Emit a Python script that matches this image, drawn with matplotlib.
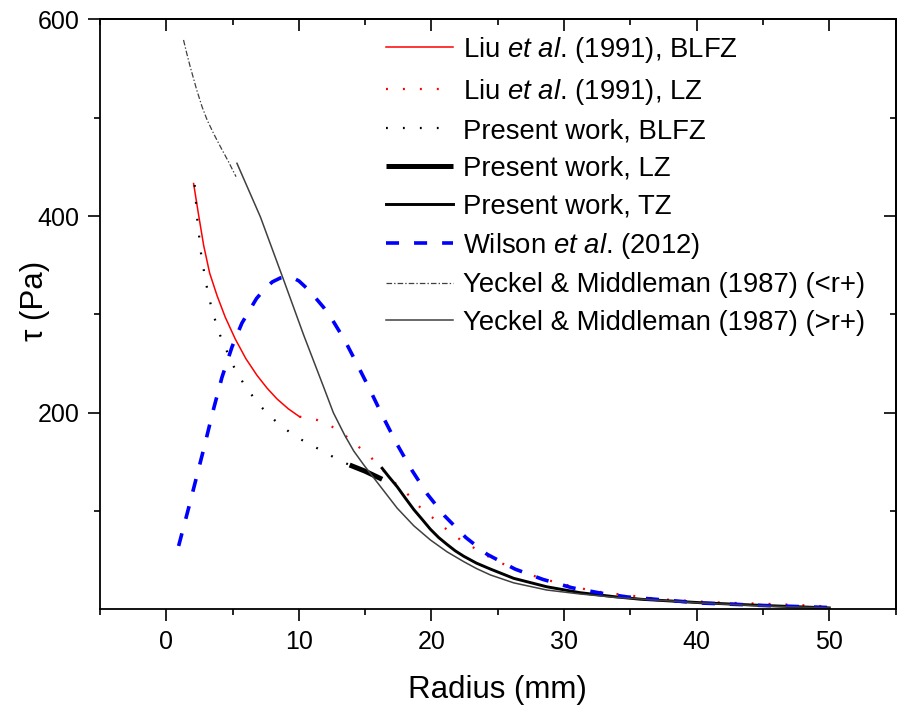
import matplotlib
matplotlib.use("Agg")
import matplotlib.pyplot as plt
from matplotlib.ticker import FixedLocator

plt.rcParams['font.family'] = ['Liberation Sans', 'DejaVu Sans']
plt.rcParams['mathtext.fontset'] = 'custom'
plt.rcParams['mathtext.rm'] = 'Liberation Sans'
plt.rcParams['mathtext.it'] = 'Liberation Sans:italic'
plt.rcParams['lines.scale_dashes'] = False

# ---- data (Radius mm, tau Pa) ----
yeckel_in_x = [1.3, 1.55, 1.8, 2.3, 2.7, 3.1, 3.6, 4.1, 4.7, 5.26]
yeckel_in_y = [579, 565, 552, 528, 511, 497, 483, 470, 455, 440]

yeckel_out_x = [5.33, 7.1, 8.85, 10.36, 11.87, 12.6, 13.46, 14.14, 14.89, 16.15, 17.41, 18.67,
                19.92, 21.18, 22.44, 23.4, 24.45, 26.2, 28.7, 31.2, 33.8, 40.3, 45.0, 50.0]
yeckel_out_y = [453.6, 399, 335, 279, 226, 200, 177, 161, 147, 125, 103, 85,
                70.6, 58.5, 48.5, 41.5, 35, 27, 19.7, 15.7, 12.3, 6.5, 3.5, 1.5]

liu_blfz_x = [2.06, 2.45, 2.82, 3.27, 3.83, 4.45, 5.2, 6.0, 6.84, 7.6, 8.35, 9.2, 10.04]
liu_blfz_y = [433, 400, 370, 342, 319, 297, 275, 255, 238, 225, 214, 204, 196]

liu_lz_x = [10.04, 11.37, 12.5, 13.6, 14.5, 15.5, 17.3, 18.3, 19.2, 20.2, 21.2, 22.2,
            23.4, 24.5, 25.7, 26.9, 29.5, 30.8, 32.1, 33.4, 34.7, 37.3, 41.3, 46.3, 50.0]
liu_lz_y = [196, 192.6, 185.8, 175.6, 165.4, 153.6, 128, 116, 103, 92, 80.7, 70.6,
            61, 52, 44.4, 37.3, 27, 23, 19, 16.4, 14.6, 10.3, 7.2, 5.2, 3.0]

pw_blfz_x = [2.14, 2.34, 2.62, 2.99, 3.45, 4.05, 5.0, 5.94, 7.07, 8.35, 9.71, 11.37, 13.0, 13.83]
pw_blfz_y = [431.5, 396, 362, 332, 304, 279, 249, 227, 207, 190, 176, 164, 152, 146.8]

pw_lz_x = [13.83, 15.0, 16.28]
pw_lz_y = [146.8, 140.5, 132.3]

pw_tz_x = [16.28, 16.78, 17.41, 18.04, 18.67, 19.3, 19.92, 20.55, 21.18, 21.8, 22.44,
           23.4, 24.45, 26.2, 28.7, 31.2, 33.8, 35.8, 40.3, 45.0, 50.0]
pw_tz_y = [143.5, 135, 124.8, 113, 101.5, 91.5, 81.5, 73, 66, 59.5, 54,
           47, 41, 31.6, 23, 17, 12.9, 10.3, 6.8, 4.0, 1.5]

wilson_x = [0.93, 1.76, 2.82, 3.57, 4.2, 4.96, 5.7, 6.8, 7.5, 8.0, 8.6, 9.1, 9.5, 10.0,
            10.8, 11.87, 12.5, 13.13, 13.6, 14.25, 15.3, 16.3, 17.4, 18.5, 19.7, 21.0,
            22.6, 24.2, 26.3, 28.4, 30.6, 32.7, 34.8, 40.3, 45.0, 50.0]
wilson_y = [64.5, 107, 163, 204, 236, 267, 291, 316, 327, 333, 337, 338, 337.5, 334,
            324, 307, 295, 281, 270, 253, 225, 197, 168, 142, 117, 95,
            73, 56, 41, 30.5, 22, 16.7, 12.6, 6.5, 4.0, 1.9]

labels = ['Liu $\\mathit{et\\ al}$. (1991), BLFZ',
          'Liu $\\mathit{et\\ al}$. (1991), LZ',
          'Present work, BLFZ',
          'Present work, LZ',
          'Present work, TZ',
          'Wilson $\\mathit{et\\ al}$. (2012)',
          'Yeckel & Middleman (1987) (<r+)',
          'Yeckel & Middleman (1987) (>r+)']

x_major = [0, 10, 20, 30, 40, 50]
x_minor = [-5, 5, 15, 25, 35, 45, 55]
y_major = [200, 400, 600]
y_minor = [100, 300, 500]

fig = plt.figure(figsize=(8.97, 7.11), dpi=100)
ax = fig.add_axes([0.11148, 0.1429, 0.88685, 0.82995])

h1, = ax.plot(liu_blfz_x, liu_blfz_y, color='#ff0000', lw=1.1)
h2, = ax.plot(liu_lz_x, liu_lz_y, color='#ff0000', lw=1.6, dashes=(1.4, 10.8))
h3, = ax.plot(pw_blfz_x, pw_blfz_y, color='black', lw=1.6, dashes=(1.3, 10.9))
h4, = ax.plot(pw_lz_x, pw_lz_y, color='black', lw=3.6, solid_capstyle='butt')
h5, = ax.plot(pw_tz_x, pw_tz_y, color='black', lw=2.1)
h6, = ax.plot(wilson_x, wilson_y, color='#0000ff', lw=2.6, dashes=(9.4, 10.8))
h7, = ax.plot(yeckel_in_x, yeckel_in_y, color='#404040', lw=0.9, dashes=(4.0, 1.5, 1.0, 1.5))
h8, = ax.plot(yeckel_out_x, yeckel_out_y, color='#404040', lw=1.1)

ax.set_xlim(-5, 55)
ax.set_ylim(0, 600)
ax.xaxis.set_major_locator(FixedLocator(x_major))
ax.xaxis.set_minor_locator(FixedLocator(x_minor))
ax.yaxis.set_major_locator(FixedLocator(y_major))
ax.yaxis.set_minor_locator(FixedLocator(y_minor))

for s in ax.spines.values():
    s.set_linewidth(1.3)

ax.tick_params(which='major', direction='out', length=8.5, width=1.2, labelsize=18, pad=6)
ax.tick_params(which='minor', direction='out', length=4.5, width=1.2)

secx = ax.secondary_xaxis('top')
secx.xaxis.set_major_locator(FixedLocator(x_major))
secx.xaxis.set_minor_locator(FixedLocator(x_minor))
secx.tick_params(which='major', direction='in', length=8.5, width=1.2, labeltop=False)
secx.tick_params(which='minor', direction='in', length=4.5, width=1.2)
secx.spines['top'].set_linewidth(1.3)

secy = ax.secondary_yaxis('right')
secy.yaxis.set_major_locator(FixedLocator(y_major))
secy.yaxis.set_minor_locator(FixedLocator(y_minor))
secy.tick_params(which='major', direction='in', length=8.5, width=1.2, labelright=False)
secy.tick_params(which='minor', direction='in', length=4.5, width=1.2)
secy.spines['right'].set_linewidth(1.3)

ax.set_xlabel('Radius (mm)', fontsize=22.5)
ax.set_ylabel('τ (Pa)', fontsize=22.5)
ax.xaxis.set_label_coords(0.5, -0.111)
ax.yaxis.set_label_coords(-0.063, 0.522)

leg = ax.legend([h1, h2, h3, h4, h5, h6, h7, h8], labels,
                loc='upper left', bbox_to_anchor=(386 / 897, 1 - 35 / 711),
                bbox_transform=fig.transFigure, frameon=False, fontsize=19.8,
                borderpad=0, borderaxespad=0, handlelength=2.44,
                handletextpad=0.36, labelspacing=0.42)

fig.savefig('out.png', dpi=100)
